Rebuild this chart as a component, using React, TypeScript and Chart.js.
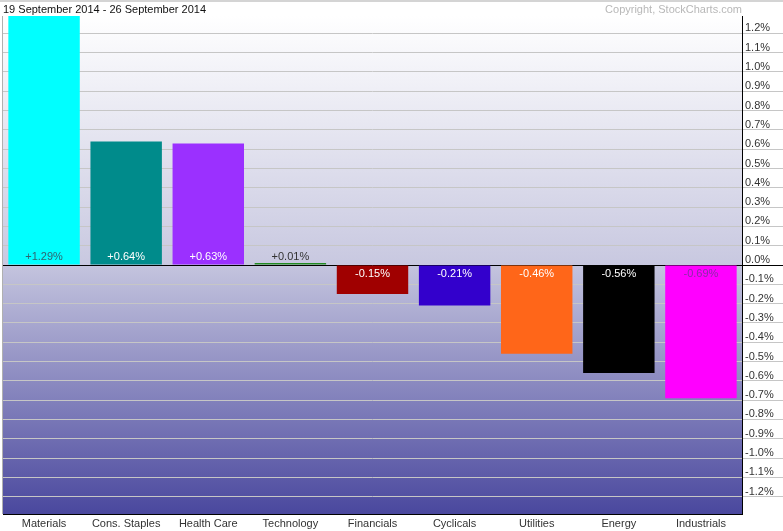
import React, { useEffect, useRef } from "react";
import { Chart, registerables } from "chart.js";

Chart.register(...registerables);

const categories = [
  "Materials",
  "Cons. Staples",
  "Health Care",
  "Technology",
  "Financials",
  "Cyclicals",
  "Utilities",
  "Energy",
  "Industrials",
];
const values = [1.29, 0.64, 0.63, 0.01, -0.15, -0.21, -0.46, -0.56, -0.69];
const barColors = [
  "#00ffff",
  "#008b8b",
  "#9b30ff",
  "#228b22",
  "#a00000",
  "#3300cc",
  "#ff6619",
  "#000000",
  "#ff00ff",
];
const labelColors = [
  "#2f6470",
  "#ffffff",
  "#ffffff",
  "#333333",
  "#ffffff",
  "#ffffff",
  "#ffffff",
  "#ffffff",
  "#8a2aa8",
];
const tickValues = [
  -1.2, -1.1, -1.0, -0.9, -0.8, -0.7, -0.6, -0.5, -0.4, -0.3, -0.2, -0.1, 0,
  0.1, 0.2, 0.3, 0.4, 0.5, 0.6, 0.7, 0.8, 0.9, 1.0, 1.1, 1.2,
];
const titleText = "19 September 2014 - 26 September 2014";
const copyrightText = "Copyright, StockCharts.com";

const FONT = "'Liberation Sans', Arial, sans-serif";

const bgPlugin = {
  id: "bgGradient",
  beforeDraw(chart: any) {
    const { ctx, chartArea, scales } = chart;
    const y = scales.y;
    const zero = y.getPixelForValue(0);
    const top = chartArea.top;
    const bottom = chartArea.bottom;
    ctx.save();
    ctx.fillStyle = "#ffffff";
    ctx.fillRect(0, 0, chart.width, chart.height);
    const g = ctx.createLinearGradient(0, top, 0, bottom);
    const zf = (zero - top) / (bottom - top);
    g.addColorStop(0, "#ffffff");
    g.addColorStop(zf, "#c8c8e0");
    g.addColorStop(Math.min(1, zf + 0.001), "#c4c4de");
    g.addColorStop(1, "#4a489e");
    ctx.fillStyle = g;
    ctx.fillRect(chartArea.left, top, chartArea.right - chartArea.left, bottom - top);
    // top gray band
    ctx.fillStyle = "#d4d4d4";
    ctx.fillRect(0, 0, chart.width, 2);
    // left border
    ctx.fillStyle = "#b0b0b0";
    ctx.fillRect(chartArea.left - 1, top, 1, bottom - top);
    // header texts
    ctx.font = "11px " + FONT;
    ctx.textBaseline = "middle";
    ctx.textAlign = "left";
    ctx.fillStyle = "#111111";
    ctx.fillText(titleText, 3, 10);
    ctx.textAlign = "right";
    ctx.fillStyle = "#b8b8b8";
    ctx.fillText(copyrightText, chartArea.right, 10);
    ctx.restore();
  },
};

const valueLabelPlugin = {
  id: "valueLabels",
  afterDatasetsDraw(chart: any) {
    const { ctx, scales } = chart;
    const meta = chart.getDatasetMeta(0);
    const zero = scales.y.getPixelForValue(0);
    ctx.save();
    ctx.font = "11px " + FONT;
    ctx.textAlign = "center";
    ctx.textBaseline = "middle";
    meta.data.forEach((bar: any, i: number) => {
      const v = values[i];
      const txt = (v >= 0 ? "+" : "") + v.toFixed(2) + "%";
      ctx.fillStyle = labelColors[i];
      const yy = v >= 0 ? zero - 8 : zero + 9;
      ctx.fillText(txt, bar.x, yy);
    });
    ctx.restore();
  },
};

export default function App() {
  const ref = useRef<HTMLCanvasElement | null>(null);
  useEffect(() => {
    if (!ref.current) return;
    const chart = new Chart(ref.current, {
      type: "bar",
      data: {
        labels: categories,
        datasets: [
          {
            data: values,
            backgroundColor: barColors,
            borderWidth: 0,
            categoryPercentage: 1,
            barPercentage: 0.87,
          },
        ],
      },
      options: {
        animation: false,
        responsive: false,
        maintainAspectRatio: false,
        layout: { padding: { left: 3, top: 16, right: 0, bottom: 0 } },
        plugins: {
          legend: { display: false },
          tooltip: { enabled: false },
          title: { display: false },
        },
        scales: {
          x: {
            grid: { display: false, drawTicks: false },
            border: { display: true, color: "#000000", width: 1 },
            ticks: {
              color: "#333333",
              font: { family: FONT, size: 11 },
              padding: 3,
              maxRotation: 0,
              autoSkip: false,
            },
            afterFit(scale: any) {
              scale.height = 17;
            },
          },
          y: {
            position: "right",
            min: -1.29,
            max: 1.29,
            afterBuildTicks(scale: any) {
              scale.ticks = tickValues.map((v) => ({ value: v }));
            },
            afterFit(scale: any) {
              scale.width = 41;
            },
            grid: {
              color: (c: any) =>
                c.tick && Math.abs(c.tick.value) < 1e-9 ? "#000000" : "#c6c6c6",
              lineWidth: 1,
              drawTicks: true,
              tickLength: 41,
            },
            border: { display: true, color: "#000000", width: 1 },
            ticks: {
              color: "#333333",
              font: { family: FONT, size: 11 },
              padding: -38,
              labelOffset: -5,
              callback: (v: any) => Number(v).toFixed(1) + "%",
            },
          },
        },
      },
      plugins: [bgPlugin, valueLabelPlugin],
    });
    return () => chart.destroy();
  }, []);
  return (
    <div style={{ position: "fixed", left: 0, top: 0, width: 783, height: 531 }}>
      <canvas ref={ref} width={783} height={531} style={{ width: 783, height: 531 }} />
    </div>
  );
}
